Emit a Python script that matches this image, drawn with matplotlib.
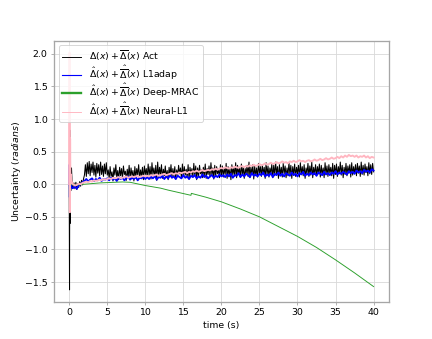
import numpy as np
import matplotlib
matplotlib.use("Agg")
import matplotlib.pyplot as plt

# ---- data ----
t_init = [0.0, 0.04, 0.08, 0.12, 0.16, 0.2, 0.3, 0.4]
act_init = [0.0, -1.62, 0.83, -0.6, 0.35, -0.1, 0.25, -0.05]
l1_init = [0.0, 0.3, -0.2, 0.1, -0.05, 0.02, -0.04, -0.06]
neural_init = [0.0, 2.02, -0.43, 0.7, 0.0, 0.15, 0.05, 0.02]

t_act = np.linspace(0.5, 40.0, 317)
act_main = [
    -0.04, 0.02, -0.07, 0.03, -0.08, 0.01, -0.05, 0.04, -0.03, 0.06, -0.01, 0.08,
    0.14, 0.30, 0.12, 0.33, 0.16, 0.35, 0.13, 0.31, 0.18, 0.34, 0.14, 0.29, 0.11,
    0.32, 0.17, 0.30, 0.13, 0.34, 0.15, 0.28, 0.12, 0.31, 0.16, 0.33, 0.14,
    0.22, 0.08, 0.27, 0.12, 0.19, 0.05, 0.25, 0.14, 0.30, 0.10, 0.21, 0.07, 0.26, 0.13, 0.24, 0.09, 0.28, 0.15, 0.20, 0.06,
    0.23, 0.11, 0.29, 0.08, 0.25, 0.13, 0.21, 0.05, 0.27, 0.10, 0.24, 0.14, 0.30, 0.09, 0.22, 0.12, 0.26, 0.07, 0.28, 0.15,
    0.24, 0.10, 0.31, 0.13, 0.27, 0.08, 0.33, 0.15, 0.25, 0.11, 0.29, 0.06, 0.34, 0.12, 0.26, 0.14, 0.30, 0.09, 0.23, 0.13,
    0.28, 0.11, 0.21, 0.07, 0.26, 0.14, 0.30, 0.10, 0.24, 0.12, 0.27, 0.08, 0.22, 0.13, 0.29, 0.16, 0.25, 0.09, 0.31, 0.12,
    0.27, 0.14, 0.23, 0.10, 0.30, 0.08, 0.26, 0.15, 0.24, 0.11, 0.32, 0.13, 0.28, 0.07, 0.25, 0.12, 0.29, 0.16, 0.22, 0.10,
    0.26, 0.13, 0.31, 0.09, 0.24, 0.15, 0.28, 0.11, 0.33, 0.14, 0.25, 0.08, 0.29, 0.12, 0.27, 0.16, 0.23, 0.10, 0.30, 0.13,
    0.28, 0.11, 0.25, 0.15, 0.32, 0.09, 0.27, 0.13, 0.24, 0.07, 0.30, 0.14, 0.26, 0.12, 0.33, 0.10, 0.29, 0.15, 0.25, 0.11,
    0.31, 0.14, 0.27, 0.09, 0.24, 0.16, 0.29, 0.12, 0.34, 0.10, 0.26, 0.15, 0.30, 0.08, 0.28, 0.13, 0.25, 0.11, 0.32, 0.16,
    0.27, 0.12, 0.30, 0.15, 0.26, 0.09, 0.33, 0.14, 0.28, 0.11, 0.25, 0.16, 0.31, 0.10, 0.29, 0.13, 0.34, 0.15, 0.27, 0.09,
    0.30, 0.14, 0.26, 0.11, 0.32, 0.16, 0.28, 0.10, 0.25, 0.13, 0.33, 0.15, 0.29, 0.09, 0.27, 0.14, 0.31, 0.12, 0.26, 0.16,
    0.29, 0.11, 0.33, 0.15, 0.27, 0.13, 0.30, 0.09, 0.25, 0.16, 0.32, 0.12, 0.28, 0.14, 0.34, 0.10, 0.26, 0.15, 0.30, 0.13,
    0.27, 0.16, 0.31, 0.11, 0.29, 0.14, 0.25, 0.10, 0.33, 0.15, 0.28, 0.12, 0.30, 0.17, 0.26, 0.13, 0.32, 0.09, 0.29, 0.15,
    0.31, 0.12, 0.27, 0.16, 0.34, 0.14, 0.29, 0.10, 0.26, 0.15, 0.32, 0.13, 0.28, 0.17, 0.30, 0.11, 0.33, 0.14, 0.27, 0.16,
    0.30, 0.13, 0.32, 0.17, 0.28, 0.12, 0.34, 0.15, 0.29, 0.14, 0.31, 0.18, 0.27, 0.13, 0.33, 0.16, 0.30, 0.15, 0.32, 0.19,
]

t_main = np.linspace(0.5, 40.0, 159)
l1_main = [
    -0.06, -0.03, -0.07, -0.01, 0.00, 0.03,
    0.05, 0.08, 0.04, 0.07, 0.09, 0.05, 0.08, 0.06, 0.10, 0.05, 0.08, 0.07, 0.09,
    0.06, 0.10, 0.07, 0.09, 0.05, 0.11, 0.08, 0.10, 0.06, 0.09, 0.12, 0.07, 0.10, 0.08, 0.11, 0.06, 0.10, 0.09, 0.12, 0.08,
    0.11, 0.08, 0.12, 0.09, 0.13, 0.07, 0.11, 0.10, 0.13, 0.08, 0.12, 0.09, 0.14, 0.10, 0.12, 0.08, 0.13, 0.11, 0.09, 0.14,
    0.10, 0.12, 0.08, 0.13, 0.11, 0.14, 0.09, 0.12, 0.10, 0.15, 0.11, 0.13, 0.09, 0.12, 0.14, 0.10, 0.13, 0.11, 0.15, 0.12,
    0.14, 0.11, 0.15, 0.12, 0.16, 0.10, 0.14, 0.13, 0.17, 0.11,
    0.15, 0.12, 0.16, 0.14, 0.11, 0.17, 0.13, 0.15, 0.12, 0.16,
    0.14, 0.18, 0.12, 0.15, 0.13, 0.17, 0.11, 0.16, 0.14, 0.18,
    0.13, 0.16, 0.12, 0.17, 0.15, 0.13, 0.18, 0.14, 0.16, 0.12,
    0.17, 0.15, 0.19, 0.13, 0.16, 0.14, 0.18, 0.15, 0.17, 0.13,
    0.18, 0.16, 0.14, 0.19, 0.15, 0.17, 0.14, 0.18, 0.16, 0.20,
    0.15, 0.18, 0.16, 0.19, 0.17, 0.15, 0.20, 0.17, 0.19, 0.16,
    0.21, 0.18, 0.20, 0.17, 0.22, 0.19, 0.21, 0.18, 0.23, 0.21,
]

neural_main = [
    0.00, -0.02, -0.01, 0.01, 0.00, 0.02,
    0.03, 0.04, 0.03, 0.05, 0.04, 0.06, 0.05, 0.06, 0.07, 0.06, 0.08, 0.07, 0.08,
    0.09, 0.08, 0.10, 0.09, 0.10, 0.11, 0.09, 0.10, 0.11, 0.12, 0.10, 0.11, 0.12, 0.11, 0.12, 0.13, 0.11, 0.12, 0.13, 0.12,
    0.13, 0.12, 0.14, 0.13, 0.14, 0.15, 0.13, 0.14, 0.15, 0.16, 0.14, 0.15, 0.16, 0.17, 0.15, 0.17, 0.16, 0.18, 0.17, 0.18,
    0.19, 0.17, 0.19, 0.18, 0.20, 0.19, 0.21, 0.19, 0.20, 0.22, 0.20, 0.21, 0.22, 0.21, 0.23, 0.22, 0.24, 0.22, 0.24, 0.25,
    0.24, 0.26, 0.25, 0.24, 0.26, 0.25, 0.27, 0.26, 0.25, 0.27,
    0.28, 0.26, 0.28, 0.27, 0.29, 0.28, 0.30, 0.28, 0.29, 0.31,
    0.29, 0.30, 0.32, 0.30, 0.31, 0.33, 0.31, 0.32, 0.34, 0.32,
    0.33, 0.35, 0.33, 0.34, 0.32, 0.35, 0.34, 0.36, 0.34, 0.35,
    0.37, 0.35, 0.36, 0.34, 0.36, 0.37, 0.35, 0.36, 0.38, 0.36,
    0.37, 0.39, 0.37, 0.38, 0.40, 0.38, 0.39, 0.41, 0.39, 0.40,
    0.42, 0.40, 0.43, 0.41, 0.44, 0.42, 0.45, 0.43, 0.44, 0.42,
    0.44, 0.41, 0.43, 0.42, 0.44, 0.41, 0.43, 0.40, 0.42, 0.41,
]

deep_t = [0, 0.5, 1, 2, 4, 6, 7, 8, 10, 12, 13, 14.5, 16, 16.05, 18, 20,
          22.5, 25, 27.5, 30, 32.5, 35, 37.5, 40]
deep_v = [0, -0.01, -0.01, 0.0, 0.02, 0.03, 0.035, 0.03, -0.02, -0.06, -0.09,
          -0.13, -0.17, -0.14, -0.2, -0.27, -0.38, -0.5, -0.65, -0.8, -0.97,
          -1.16, -1.36, -1.57]

labels = [r'$\Delta(x) + \overline{\Delta}(x)$ Act',
          r'$\hat{\Delta}(x) + \hat{\overline{\Delta}}(x)$ L1adap',
          r'$\hat{\Delta}(x) + \hat{\overline{\Delta}}(x)$ Deep-MRAC',
          r'$\hat{\Delta}(x) + \hat{\overline{\Delta}}(x)$ Neural-L1']

# ---- plotting ----
plt.rcParams['font.family'] = ['DejaVu Sans']
fig = plt.figure(figsize=(6.4, 339 / 67.5), dpi=67.5)
ax = fig.add_subplot(111)

ax.plot(np.concatenate([t_init, t_act]), np.concatenate([act_init, act_main]),
        color='k', lw=1.1, label=labels[0])
ax.plot(np.concatenate([t_init, t_main]), np.concatenate([l1_init, l1_main]),
        color='#0000ff', lw=2.0, label=labels[1])
ax.plot(deep_t, deep_v, color='tab:green', lw=1.0, label=labels[2])
ax.plot(np.concatenate([t_init, t_main]),
        np.concatenate([neural_init, neural_main]), color='#ffb6c1',
        lw=2.0, label=labels[3])

ax.set_xticks([0, 5, 10, 15, 20, 25, 30, 35, 40])
ax.set_yticks([-1.5, -1.0, -0.5, 0.0, 0.5, 1.0, 1.5, 2.0])
ax.grid(True, color='0.85', lw=0.9)
for s in ax.spines.values():
    s.set_color('0.65')
    s.set_linewidth(1.4)
ax.tick_params(color='0.6', labelcolor='k', length=3.5, width=0.8)

ax.set_xlabel('time (s)')
ax.set_ylabel(r'Uncertainty $(radians)$', labelpad=2)

leg = ax.legend(loc='upper left', framealpha=0.8, labelspacing=-0.05)
handles = leg.legend_handles
handles[0].set_linewidth(1.0)
handles[1].set_linewidth(1.2)
handles[1].set_color('#0000ff')
handles[2].set_linewidth(2.5)
handles[3].set_linewidth(1.0)

fig.savefig('out.png', dpi=67.5)
